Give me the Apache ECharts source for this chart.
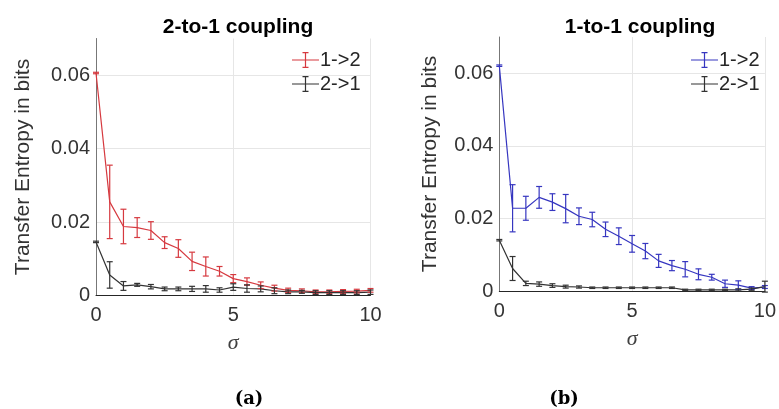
<!DOCTYPE html>
<html><head><meta charset="utf-8">
<script src="https://cdn.jsdelivr.net/npm/echarts@6/dist/echarts.min.js"></script>
<style>
html,body{margin:0;padding:0;background:#fff;}
#wrap{position:relative;width:779px;height:409px;overflow:hidden;}
#a{position:absolute;left:0;top:0;width:390px;height:409px;}
#b{position:absolute;left:390px;top:0;width:389px;height:409px;}
</style></head>
<body><div id="wrap"><div id="a"></div><div id="b"></div></div>
<script>
const sigma = [0,0.5,1,1.5,2,2.5,3,3.5,4,4.5,5,5.5,6,6.5,7,7.5,8,8.5,9,9.5,10];
const xTicks = [0,5,10];
const yTicks = [0,0.02,0.04,0.06];

// Panel (a): 2-to-1 coupling
const a12 = [0.0606,0.0255,0.0188,0.0185,0.0177,0.0144,0.0128,0.0093,0.0079,0.0066,0.0046,0.0038,0.0028,0.0020,0.0014,0.0013,0.0010,0.0010,0.0011,0.0012,0.0014];
const a12err = [0.0002,0.0100,0.0047,0.0027,0.0024,0.0016,0.0024,0.0025,0.0026,0.0013,0.0011,0.0010,0.0009,0.0008,0.0006,0.0005,0.0005,0.0005,0.0005,0.0005,0.0005];
const a21 = [0.0146,0.0056,0.0026,0.0029,0.0024,0.0018,0.0018,0.0018,0.0018,0.0015,0.0023,0.0019,0.0018,0.0013,0.0010,0.0010,0.0008,0.0008,0.0008,0.0008,0.0009];
const a21err = [0.0002,0.0036,0.0012,0.0004,0.0006,0.0005,0.0005,0.0007,0.0009,0.0006,0.0009,0.0010,0.0008,0.0008,0.0005,0.0004,0.0005,0.0005,0.0005,0.0005,0.0006];

// Panel (b): 1-to-1 coupling
const b12 = [0.0621,0.0228,0.0228,0.0258,0.0245,0.0227,0.0206,0.0197,0.0170,0.0151,0.0130,0.0110,0.0083,0.0070,0.0060,0.0046,0.0038,0.0020,0.0016,0.0008,0.0011];
const b12err = [0.0002,0.0065,0.0033,0.0030,0.0023,0.0039,0.0023,0.0020,0.0020,0.0023,0.0023,0.0021,0.0018,0.0014,0.0021,0.0015,0.0008,0.0010,0.0012,0.0004,0.0004];
const b21 = [0.0140,0.0062,0.0021,0.0019,0.0015,0.0012,0.0011,0.0009,0.0009,0.0009,0.0009,0.0009,0.0009,0.0009,0.0003,0.0003,0.0003,0.0003,0.0003,0.0005,0.0012];
const b21err = [0.0002,0.0033,0.0006,0.0006,0.0005,0.0004,0.0003,0.0002,0.0002,0.0002,0.0002,0.0002,0.0002,0.0002,0.0002,0.0002,0.0002,0.0002,0.0003,0.0003,0.0015];

const seriesNames = ['1->2','2->1'];
const RED = '#d6393f', BLUE = '#3636c0', BLACK = '#333333';
const ICON = 'path://M0,7.4h27v1.2h-27z M12.9,0h1.2v16h-1.2z M10.5,0h6v1.2h-6z M10.5,14.8h6v1.2h-6z';
const FONT = 'Liberation Sans, Arial, sans-serif';

function errRender(color){
  return function(params, api){
    const x = api.value(0), lo = api.value(1), hi = api.value(2);
    const p1 = api.coord([x, lo]), p2 = api.coord([x, hi]);
    const hw = 3;
    const st = {stroke: color, lineWidth: 1.2};
    return {type:'group', children:[
      {type:'line', shape:{x1:p1[0],y1:p1[1],x2:p2[0],y2:p2[1]}, style:st},
      {type:'line', shape:{x1:p1[0]-hw,y1:p1[1],x2:p1[0]+hw,y2:p1[1]}, style:st},
      {type:'line', shape:{x1:p2[0]-hw,y1:p2[1],x2:p2[0]+hw,y2:p2[1]}, style:st}
    ]};
  };
}

function makeSeries(name, mean, err, color){
  return [
    {name:name, type:'line', data: sigma.map((s,i)=>[s, mean[i]]), showSymbol:false, symbol:'none',
     color: color, lineStyle:{color:color, width:1.2}, z:3, animation:false},
    {name:name, type:'custom', data: sigma.map((s,i)=>[s, mean[i]-err[i], mean[i]+err[i]]),
     renderItem: errRender(color), color: color, z:4, animation:false, encode:{x:0, y:[1,2]}}
  ];
}

function makeOption(cfg){
  return {
    animation:false,
    title:[
      {text: cfg.title, left: cfg.titleX, top: 12, textAlign:'center',
       textStyle:{fontFamily: FONT, fontWeight:'bold', fontSize:21, color:'#000'}},
      {text: cfg.caption, left: cfg.capX, top: 385, textAlign:'center',
       textStyle:{fontFamily:'DejaVu Serif, serif', fontWeight:'bold', fontSize:18, color:'#000'}}
    ],
    legend:{
      orient:'vertical', left: cfg.legX, top: 45, itemWidth:27, itemHeight:16, itemGap:4,
      data: seriesNames.map(n=>({name:n, icon: ICON})),
      textStyle:{fontFamily: FONT, fontSize:20, color:'#262626', padding:[0,0,0,-4]},
      selectedMode:false
    },
    grid:{left: cfg.gl, right: cfg.gr, top: cfg.gt, bottom: cfg.gb},
    xAxis:{type:'value', min:0, max:10, interval:5,
      name:'σ', nameLocation:'middle', nameGap:37,
      nameTextStyle:{fontFamily:'Liberation Serif, serif', fontStyle:'italic', fontSize:22, color:'#404040'},
      axisLine:{lineStyle:{color:'#262626', width:1}},
      axisTick:{show:false},
      axisLabel:{fontFamily: FONT, fontSize:20, color:'#333', margin:10,
        formatter: v => xTicks.includes(v) ? String(v) : ''},
      splitLine:{show:true, lineStyle:{color:'#e6e6e6', width:1}}
    },
    yAxis:{type:'value', min:0, max:0.07, interval:0.02,
      name:'Transfer Entropy in bits', nameLocation:'middle', nameGap: cfg.nameGap, nameRotate:90,
      nameTextStyle:{fontFamily: FONT, fontSize:21, color:'#333'},
      axisLine:{show:true, lineStyle:{color:'#777', width:1}},
      axisTick:{show:false},
      axisLabel:{fontFamily: FONT, fontSize:20, color:'#333', margin:6,
        formatter: v => { const t = yTicks.find(k=>Math.abs(k-v)<1e-9); return t===undefined ? '' : (t===0 ? '0' : t.toFixed(2)); }},
      splitLine:{show:true, showMaxLine:false, lineStyle:{color:'#e6e6e6', width:1}}
    },
    series: [].concat(
      makeSeries(seriesNames[0], cfg.m12, cfg.e12, cfg.c12),
      makeSeries(seriesNames[1], cfg.m21, cfg.e21, BLACK)
    )
  };
}

const chartA = echarts.init(document.getElementById('a'), null, {renderer:'canvas'});
chartA.setOption(makeOption({
  title:'2-to-1 coupling', titleX:233, caption:'(a)', capX:244, legX:287,
  gl:96, gr:19.5, gt:38.5, gb:113.5, nameGap:62,
  m12:a12, e12:a12err, c12:RED, m21:a21, e21:a21err
}));
const chartB = echarts.init(document.getElementById('b'), null, {renderer:'canvas'});
chartB.setOption(makeOption({
  title:'1-to-1 coupling', titleX:245, caption:'(b)', capX:169, legX:296,
  gl:109.3, gr:10, gt:37, gb:118, nameGap:59,
  m12:b12, e12:b12err, c12:BLUE, m21:b21, e21:b21err
}));
</script>
</body></html>
